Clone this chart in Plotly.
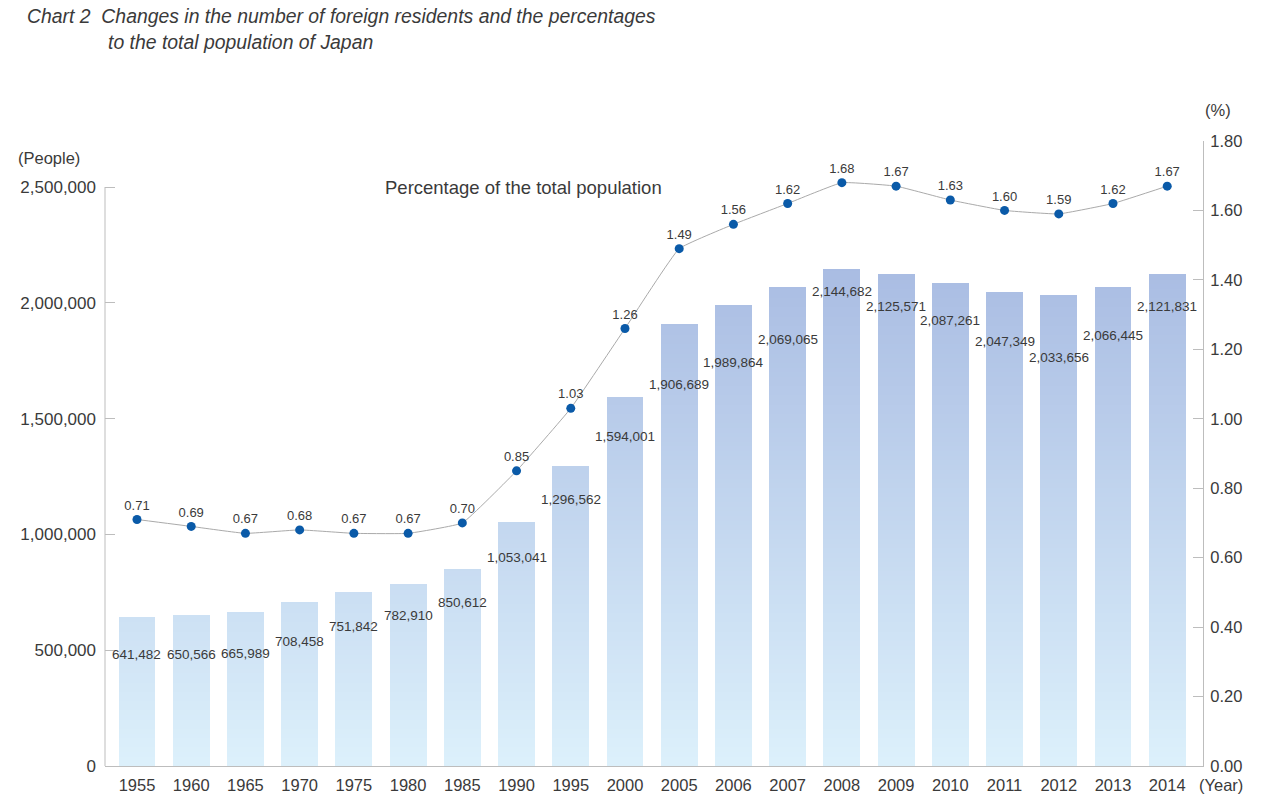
import plotly.graph_objects as go

years = ["1955", "1960", "1965", "1970", "1975", "1980", "1985", "1990", "1995", "2000",
         "2005", "2006", "2007", "2008", "2009", "2010", "2011", "2012", "2013", "2014"]
residents = [641482, 650566, 665989, 708458, 751842, 782910, 850612, 1053041, 1296562, 1594001,
             1906689, 1989864, 2069065, 2144682, 2125571, 2087261, 2047349, 2033656, 2066445, 2121831]
percent = [0.71, 0.69, 0.67, 0.68, 0.67, 0.67, 0.70, 0.85, 1.03, 1.26,
           1.49, 1.56, 1.62, 1.68, 1.67, 1.63, 1.60, 1.59, 1.62, 1.67]
left_ticks = [0, 500000, 1000000, 1500000, 2000000, 2500000]
right_ticks = [0.0, 0.2, 0.4, 0.6, 0.8, 1.0, 1.2, 1.4, 1.6, 1.8]

# styling: how far (px) each bar's value label sits below the bar top
label_drop = [37, 39, 42, 40, 35, 31, 33, 35, 34, 40,
              60, 57, 53, 22, 33, 38, 50, 62, 48, 32]

FONT = "Liberation Sans, Arial, sans-serif"
TXT = "#3a3a3a"
AX = "#bdbdbd"

xs = list(range(len(years)))
fig = go.Figure()

# gradient bars: overlapping layers, each from a level to the bar top
step = 20000
top_val = 2200000
c0 = (220, 240, 251)   # bottom
c1 = (168, 187, 226)   # top
maxv = max(residents)
k = 0
while k * step < maxv:
    base = k * step
    t = min(1.0, base / top_val)
    col = "rgb(%d,%d,%d)" % tuple(round(c0[i] + (c1[i] - c0[i]) * t) for i in range(3))
    bx, bb, by = [], [], []
    for x, v in zip(xs, residents):
        if v > base:
            bx.append(x)
            bb.append(base)
            by.append(v - base)
    fig.add_trace(go.Bar(x=bx, y=by, base=bb, marker=dict(color=col, line=dict(width=0)),
                         width=0.68, showlegend=False, hoverinfo="skip"))
    k += 1

# bar value labels
for x, v, d in zip(xs, residents, label_drop):
    fig.add_annotation(x=x, y=v, xref="x", yref="y", text=f"{v:,}", showarrow=False,
                       yshift=-d, font=dict(family=FONT, size=13.5, color=TXT))

# percentage line
fig.add_trace(go.Scatter(x=xs, y=percent, yaxis="y2", mode="lines+markers+text",
                         line=dict(color="#aaaaaa", width=1, shape="spline", smoothing=0.3),
                         marker=dict(color="#0a5aa8", size=9),
                         text=[f"{p:.2f}" for p in percent], textposition="top center",
                         textfont=dict(family=FONT, size=13, color=TXT),
                         showlegend=False, hoverinfo="skip"))

left_max = 2500000 * 625 / 579

fig.update_layout(
    width=1268, height=799,
    margin=dict(l=105, r=65, t=141, b=33),
    paper_bgcolor="white", plot_bgcolor="white",
    barmode="overlay", bargap=0,
    font=dict(family=FONT, color=TXT),
    xaxis=dict(range=[-0.59, 19.66], tickvals=xs, ticktext=years, showgrid=False,
               zeroline=False, showline=True, linecolor=AX, linewidth=1, ticks="",
               tickfont=dict(size=16.5, color=TXT), ticklabelstandoff=4, automargin=False),
    yaxis=dict(range=[0, left_max], tickvals=left_ticks,
               ticktext=[f"{v:,}" for v in left_ticks], showgrid=False, zeroline=False,
               showline=False, ticks="inside", ticklen=10, tickcolor=AX,
               tickfont=dict(size=17, color=TXT), ticklabelstandoff=8, automargin=False),
    yaxis2=dict(range=[0, 1.8], overlaying="y", side="right", tickvals=right_ticks,
                ticktext=[f"{v:.2f}" for v in right_ticks], showgrid=False, zeroline=False,
                showline=True, linecolor=AX, linewidth=1, ticks="inside", ticklen=10,
                tickcolor=AX, tickfont=dict(size=16.5, color=TXT), ticklabelstandoff=3,
                automargin=False),
)

# left axis line only up to 2,500,000
fig.add_shape(type="line", xref="paper", yref="y", x0=0, x1=0, y0=0, y1=2500000,
              line=dict(color=AX, width=1))

H = 625.0
W = 1098.0
def px(xp):
    return (xp - 105) / W
def py(yp):
    return (766 - yp) / H

fig.add_annotation(xref="paper", yref="paper", x=px(25), y=py(16), xanchor="left", yanchor="middle",
                   text="<i>Chart 2  Changes in the number of foreign residents and the percentages</i>",
                   showarrow=False, font=dict(family=FONT, size=19.4, color=TXT))
fig.add_annotation(xref="paper", yref="paper", x=px(106), y=py(42), xanchor="left", yanchor="middle",
                   text="<i>to the total population of Japan</i>",
                   showarrow=False, font=dict(family=FONT, size=19.4, color=TXT))
fig.add_annotation(xref="paper", yref="paper", x=px(16), y=py(158), xanchor="left", yanchor="middle",
                   text="(People)", showarrow=False, font=dict(family=FONT, size=16.5, color=TXT))
fig.add_annotation(xref="paper", yref="paper", x=px(1203), y=py(110), xanchor="left", yanchor="middle",
                   text="(%)", showarrow=False, font=dict(family=FONT, size=16.5, color=TXT))
fig.add_annotation(xref="paper", yref="paper", x=px(1197), y=py(785), xanchor="left", yanchor="middle",
                   text="(Year)", showarrow=False, font=dict(family=FONT, size=16.5, color=TXT))
fig.add_annotation(xref="paper", yref="paper", x=px(383), y=py(187), xanchor="left", yanchor="middle",
                   text="Percentage of the total population", showarrow=False,
                   font=dict(family=FONT, size=18.5, color=TXT))

fig.write_html("out.html")
